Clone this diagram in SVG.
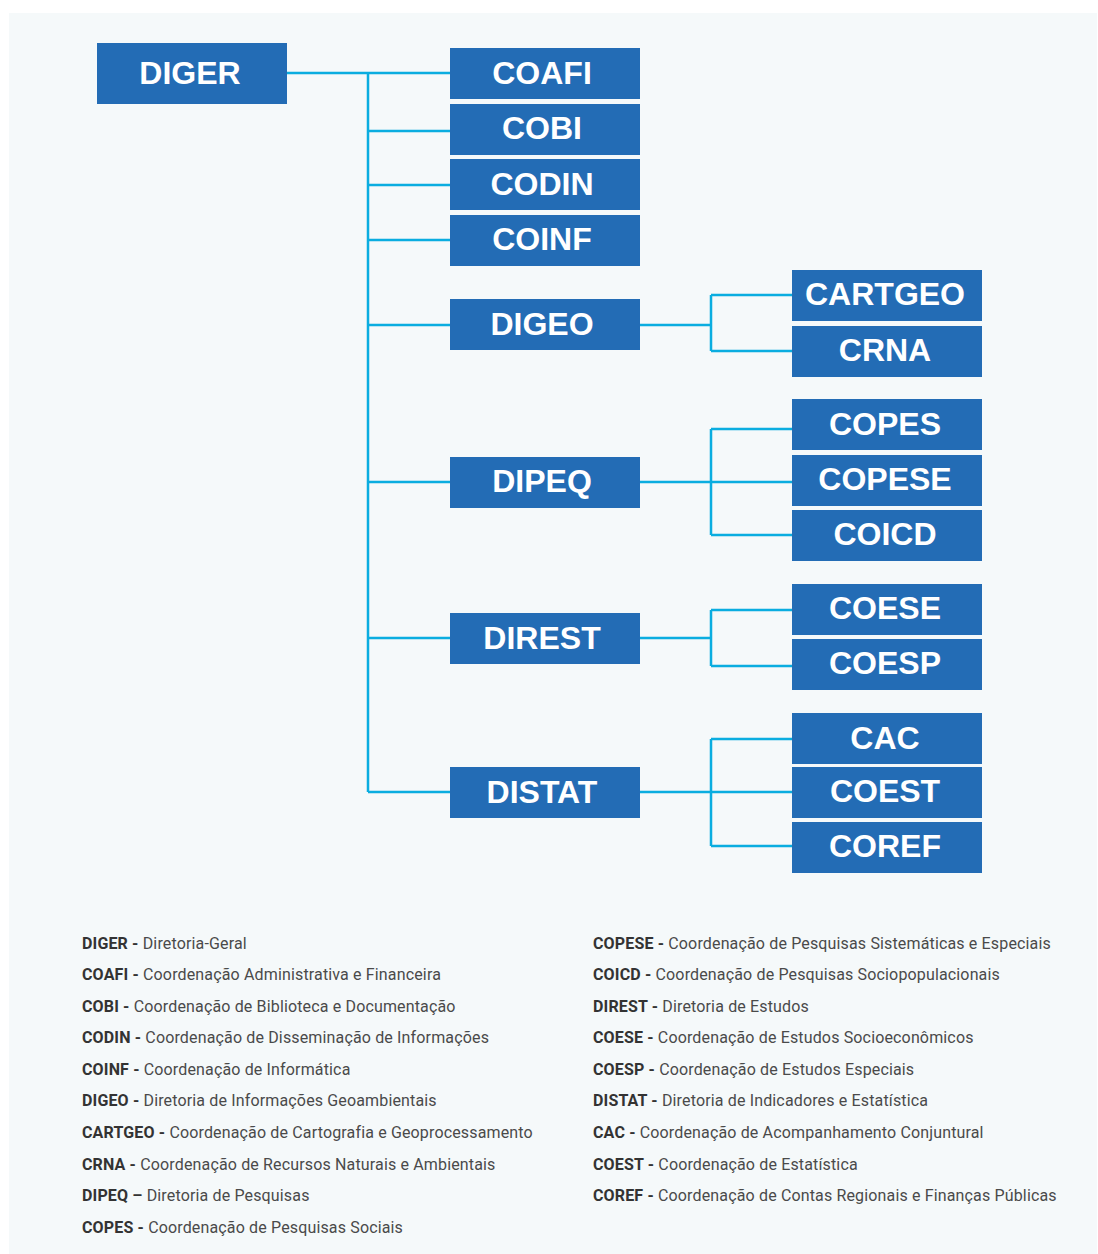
<svg xmlns="http://www.w3.org/2000/svg" width="1098" height="1254" viewBox="0 0 1098 1254">
<style>
.bg{fill:#f5f9fa}
.box{fill:#236cb5}
.lbl{font-family:"Liberation Sans",Arial,sans-serif;font-weight:bold;font-size:32px;fill:#ffffff;text-anchor:middle}
.con{stroke:#0aade0;stroke-width:2.5;fill:none}
.lg{font-family:Roboto,"Noto Sans",sans-serif;font-size:16px;fill:#4a4a4a;letter-spacing:0.15px}
.lg tspan.b{font-weight:bold;fill:#333}
</style>
<rect width="1098" height="1254" fill="#ffffff"/>
<rect class="bg" x="9" y="13" width="1088" height="1241"/>
<g id="connectors">
<path class="con" d="M287 73H450M368 73V792M368 131H450M368 185H450M368 240H450M368 325H450M368 482H450M368 638H450M368 792H450"/>
<path class="con" d="M640 325H711M711 295V351M711 295H792M711 351H792"/>
<path class="con" d="M640 482H792M711 429V535M711 429H792M711 535H792"/>
<path class="con" d="M640 638H711M711 610V666M711 610H792M711 666H792"/>
<path class="con" d="M640 792H792M711 739V846M711 739H792M711 846H792"/>
</g>
<g id="DIGER"><rect class="box" x="97" y="43" width="190" height="61"/><text class="lbl" x="190" y="84">DIGER</text></g>
<g id="COAFI"><rect class="box" x="450" y="48" width="190" height="51"/><text class="lbl" x="542" y="84">COAFI</text></g>
<g id="COBI"><rect class="box" x="450" y="104" width="190" height="51"/><text class="lbl" x="542" y="139">COBI</text></g>
<g id="CODIN"><rect class="box" x="450" y="159" width="190" height="51"/><text class="lbl" x="542" y="195">CODIN</text></g>
<g id="COINF"><rect class="box" x="450" y="215" width="190" height="51"/><text class="lbl" x="542" y="250">COINF</text></g>
<g id="DIGEO"><rect class="box" x="450" y="299" width="190" height="51"/><text class="lbl" x="542" y="335">DIGEO</text></g>
<g id="DIPEQ"><rect class="box" x="450" y="457" width="190" height="51"/><text class="lbl" x="542" y="492">DIPEQ</text></g>
<g id="DIREST"><rect class="box" x="450" y="613" width="190" height="51"/><text class="lbl" x="542" y="649">DIREST</text></g>
<g id="DISTAT"><rect class="box" x="450" y="767" width="190" height="51"/><text class="lbl" x="542" y="803">DISTAT</text></g>
<g id="CARTGEO"><rect class="box" x="792" y="270" width="190" height="51"/><text class="lbl" x="885" y="305">CARTGEO</text></g>
<g id="CRNA"><rect class="box" x="792" y="326" width="190" height="51"/><text class="lbl" x="885" y="361">CRNA</text></g>
<g id="COPES"><rect class="box" x="792" y="399" width="190" height="51"/><text class="lbl" x="885" y="435">COPES</text></g>
<g id="COPESE"><rect class="box" x="792" y="455" width="190" height="51"/><text class="lbl" x="885" y="490">COPESE</text></g>
<g id="COICD"><rect class="box" x="792" y="510" width="190" height="51"/><text class="lbl" x="885" y="545">COICD</text></g>
<g id="COESE"><rect class="box" x="792" y="584" width="190" height="51"/><text class="lbl" x="885" y="619">COESE</text></g>
<g id="COESP"><rect class="box" x="792" y="639" width="190" height="51"/><text class="lbl" x="885" y="674">COESP</text></g>
<g id="CAC"><rect class="box" x="792" y="713" width="190" height="51"/><text class="lbl" x="885" y="749">CAC</text></g>
<g id="COEST"><rect class="box" x="792" y="767" width="190" height="51"/><text class="lbl" x="885" y="802">COEST</text></g>
<g id="COREF"><rect class="box" x="792" y="822" width="190" height="51"/><text class="lbl" x="885" y="857">COREF</text></g>
<g id="legend">
<text class="lg" x="82" y="949"><tspan class="b">DIGER - </tspan>Diretoria-Geral</text>
<text class="lg" x="82" y="980"><tspan class="b">COAFI - </tspan>Coordenação Administrativa e Financeira</text>
<text class="lg" x="82" y="1012"><tspan class="b">COBI - </tspan>Coordenação de Biblioteca e Documentação</text>
<text class="lg" x="82" y="1043"><tspan class="b">CODIN - </tspan>Coordenação de Disseminação de Informações</text>
<text class="lg" x="82" y="1075"><tspan class="b">COINF - </tspan>Coordenação de Informática</text>
<text class="lg" x="82" y="1106"><tspan class="b">DIGEO - </tspan>Diretoria de Informações Geoambientais</text>
<text class="lg" x="82" y="1138"><tspan class="b">CARTGEO - </tspan>Coordenação de Cartografia e Geoprocessamento</text>
<text class="lg" x="82" y="1170"><tspan class="b">CRNA - </tspan>Coordenação de Recursos Naturais e Ambientais</text>
<text class="lg" x="82" y="1201"><tspan class="b">DIPEQ – </tspan>Diretoria de Pesquisas</text>
<text class="lg" x="82" y="1233"><tspan class="b">COPES - </tspan>Coordenação de Pesquisas Sociais</text>
<text class="lg" x="593" y="949"><tspan class="b">COPESE - </tspan>Coordenação de Pesquisas Sistemáticas e Especiais</text>
<text class="lg" x="593" y="980"><tspan class="b">COICD - </tspan>Coordenação de Pesquisas Sociopopulacionais</text>
<text class="lg" x="593" y="1012"><tspan class="b">DIREST - </tspan>Diretoria de Estudos</text>
<text class="lg" x="593" y="1043"><tspan class="b">COESE - </tspan>Coordenação de Estudos Socioeconômicos</text>
<text class="lg" x="593" y="1075"><tspan class="b">COESP - </tspan>Coordenação de Estudos Especiais</text>
<text class="lg" x="593" y="1106"><tspan class="b">DISTAT - </tspan>Diretoria de Indicadores e Estatística</text>
<text class="lg" x="593" y="1138"><tspan class="b">CAC - </tspan>Coordenação de Acompanhamento Conjuntural</text>
<text class="lg" x="593" y="1170"><tspan class="b">COEST - </tspan>Coordenação de Estatística</text>
<text class="lg" x="593" y="1201"><tspan class="b">COREF - </tspan>Coordenação de Contas Regionais e Finanças Públicas</text>
</g>
</svg>
